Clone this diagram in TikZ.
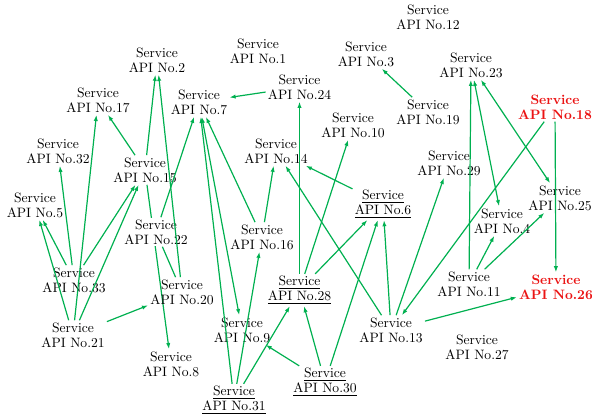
\documentclass[tikz,border=0pt]{standalone}
\usetikzlibrary{arrows.meta}
\definecolor{linkgreen}{RGB}{0,176,80}
\definecolor{apired}{RGB}{235,20,20}
\pgfdeclarelayer{bg}
\pgfsetlayers{bg,main}
\tikzset{
  api/.style={align=center, inner sep=1.5pt, font=\fontsize{10.2}{11.4}\selectfont},
  hot/.style={api, text=apired, font=\fontsize{10.2}{11.4}\selectfont\bfseries},
  link/.style={draw=linkgreen, line width=0.9pt, -{Latex[length=4.6pt,width=3.2pt]}},
  twoway/.style={draw=linkgreen, line width=0.9pt, {Latex[length=4.6pt,width=3.2pt]}-{Latex[length=4.6pt,width=3.2pt]}},
  plain/.style={draw=linkgreen, line width=0.9pt},
}
\newcommand{\svc}[1]{Service\\API No.#1}
\newcommand{\usvc}[1]{\underline{Service}\\\underline{API No.#1}}
\begin{document}
\begin{tikzpicture}[x=0.75pt,y=-0.75pt]
\useasboundingbox (0,0) rectangle (592,416);

% service nodes
\node[api] (n1)  at (258,51)  {\svc{1}};
\node[api] (n2)  at (157,60)  {\svc{2}};
\node[api] (n3)  at (366,54)  {\svc{3}};
\node[api] (n4)  at (502,221) {\svc{4}};
\node[api] (n5)  at (35,205)  {\svc{5}};
\node[api] (n6)  at (383,204) {\usvc{6}};
\node[api] (n7)  at (199,102) {\svc{7}};
\node[api] (n8)  at (171,364) {\svc{8}};
\node[api] (n9)  at (242,330) {\svc{9}};
\node[api] (n10) at (353,125) {\svc{10}};
\node[api] (n11) at (469,284) {\svc{11}};
\node[api] (n12) at (428,17)  {\svc{12}};
\node[api] (n13) at (391,330) {\svc{13}};
\node[api] (n14) at (276,151) {\svc{14}};
\node[api] (n15) at (145,170) {\svc{15}};
\node[api] (n16) at (262,237) {\svc{16}};
\node[api] (n17) at (98,100)  {\svc{17}};
\node[hot] (n18) at (555,107) {\svc{18}};
\node[api] (n19) at (428,112) {\svc{19}};
\node[api] (n20) at (182,292) {\svc{20}};
\node[api] (n21) at (73,335)  {\svc{21}};
\node[api,fill=white] (n22) at (156,232) {\svc{22}};
\node[api] (n23) at (471,65)  {\svc{23}};
\node[api] (n24) at (299.5,87)  {\svc{24}};
\node[api] (n25) at (560,198) {\svc{25}};
\node[hot] (n26) at (556,287) {\svc{26}};
\node[api] (n27) at (477,347) {\svc{27}};
\node[api] (n28) at (299.5,290) {\usvc{28}};
\node[api] (n29) at (449,163) {\svc{29}};
\node[api] (n30) at (325,382) {\usvc{30}};
\node[api] (n31) at (234,400) {\usvc{31}};
\node[api] (n32) at (58,151)  {\svc{32}};
\node[api] (n33) at (74,280)  {\svc{33}};

% this call runs behind the label of No.22
\begin{pgfonlayer}{bg}
  \draw[link] (n15) -- (n8);
\end{pgfonlayer}

% calls between services
\draw[link] (n19) -- (n3);
\draw[link] (n24) -- (n7);
\draw[link] (n28) -- (n24);
\draw[link] (n28) -- (n10);
\draw[link] (n28) -- (n6);
\draw[link] (n6) -- (n14);
\draw[link] (n16) -- (n14);
\draw[link] (n13) -- (n14);
\draw[link] (n13) -- (n6);
\draw[link] (n13) -- (n29);
\draw[link] (n30) -- (n6);
\draw[link] (n30) -- (n28);
\draw[link] (n30) -- (n9);
\draw[link] (n31) -- (n28);
\draw[link] (n31) -- (n16);
\draw[link] (n31) -- (n7);
\draw[twoway] (n7) -- (n9);
\draw[link] (n16) -- (n7);
\draw[link] (n22) -- (n7);
\draw[link] (n18) -- (n13);
\draw[link] (n18) -- (n26);
\draw[link] (n11) -- (n23);
\draw[twoway] (n23) -- (n4);
\draw[twoway] (n23) -- (n25);
\draw[link] (n11) -- (n4);
\draw[link] (n11) -- (n25);
\draw[link] (n13) -- (n26);
\draw[link] (n33) -- (n5);
\draw[link] (n21) -- (n5);
\draw[link] (n33) -- (n32);
\draw[link] (n21) -- (n17);
\draw[link] (n33) -- (n15);
\draw[link] (n21) -- (n15);
\draw[link] (n21) -- (n20);
\draw[link] (n20) -- (n2);
\draw[link] (n15) -- (n2);
\draw[link] (n15) -- (n17);
\draw[plain] (n22) -- (n20);
\end{tikzpicture}
\end{document}
